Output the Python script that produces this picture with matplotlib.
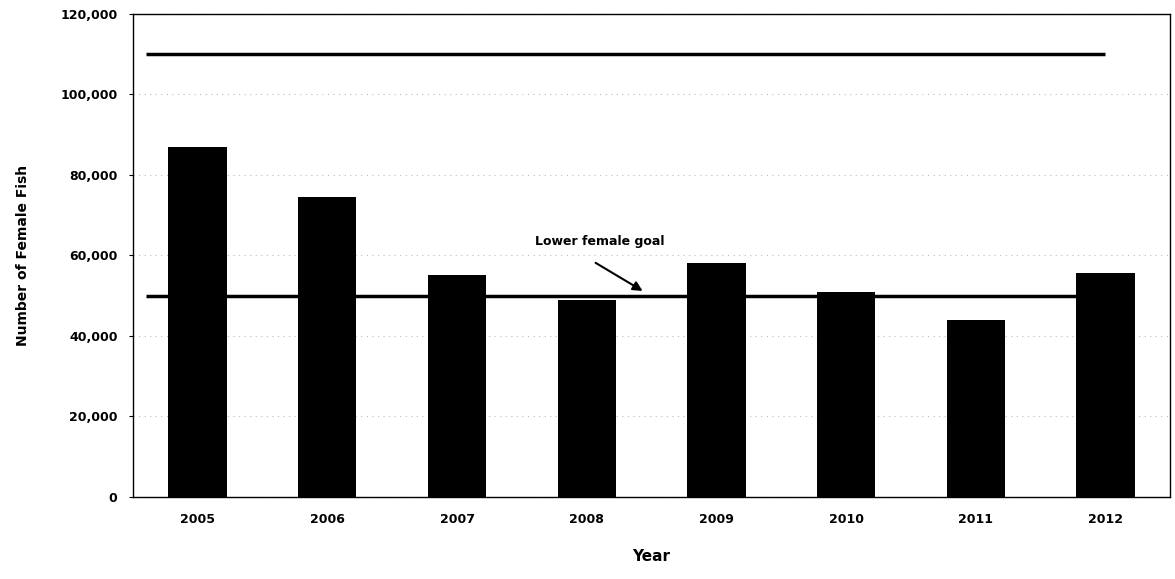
import numpy as np
import matplotlib.pyplot as plt

plt.rcParams.update({"font.family": "DejaVu Sans", "font.weight": "bold"})

years = ["2005", "2006", "2007", "2008", "2009", "2010", "2011", "2012"]
females = [87000, 74500, 55000, 49000, 58000, 51000, 44000, 55500]
upper_goal = 110000
lower_goal = 50000

fig = plt.figure(figsize=(11.75, 5.79), dpi=100)
ax = fig.add_axes([0.113, 0.142, 0.883, 0.834])

x = np.arange(len(years))
ax.bar(x, females, width=0.45, color="black", zorder=3)

# goal lines
ax.hlines([upper_goal, lower_goal], -0.4, 7.0, color="black", lw=2.5, zorder=4)

ax.set_xlim(-0.5, len(years) - 0.5)
ax.set_ylim(0, 120000)
ax.set_yticks(np.arange(0, 120001, 20000))
ax.set_yticklabels([f"{v:,}" for v in range(0, 120001, 20000)], fontsize=9, fontweight="bold")
ax.set_xticks(x)
ax.set_xticklabels(years, fontsize=9, fontweight="bold")
ax.tick_params(axis="x", length=0, pad=12)
ax.tick_params(axis="y", length=3, pad=8)
ax.grid(axis="y", color="#bbbbbb", ls=(0, (1, 4)), lw=0.8, zorder=0)
for s in ax.spines.values():
    s.set_linewidth(1.0)

ax.set_ylabel("Number of Female Fish", fontsize=10, fontweight="bold", labelpad=22)
ax.set_xlabel("Year", fontsize=11, fontweight="bold", labelpad=16)

ax.annotate("", xy=(3.45, 50800), xytext=(3.05, 58500),
            arrowprops=dict(arrowstyle="-|>", color="black", lw=1.5, mutation_scale=14), zorder=5)
ax.text(3.1, 63500, "Lower female goal", ha="center", va="center", fontsize=9, fontweight="bold")

fig.savefig("out.png", dpi=100)
